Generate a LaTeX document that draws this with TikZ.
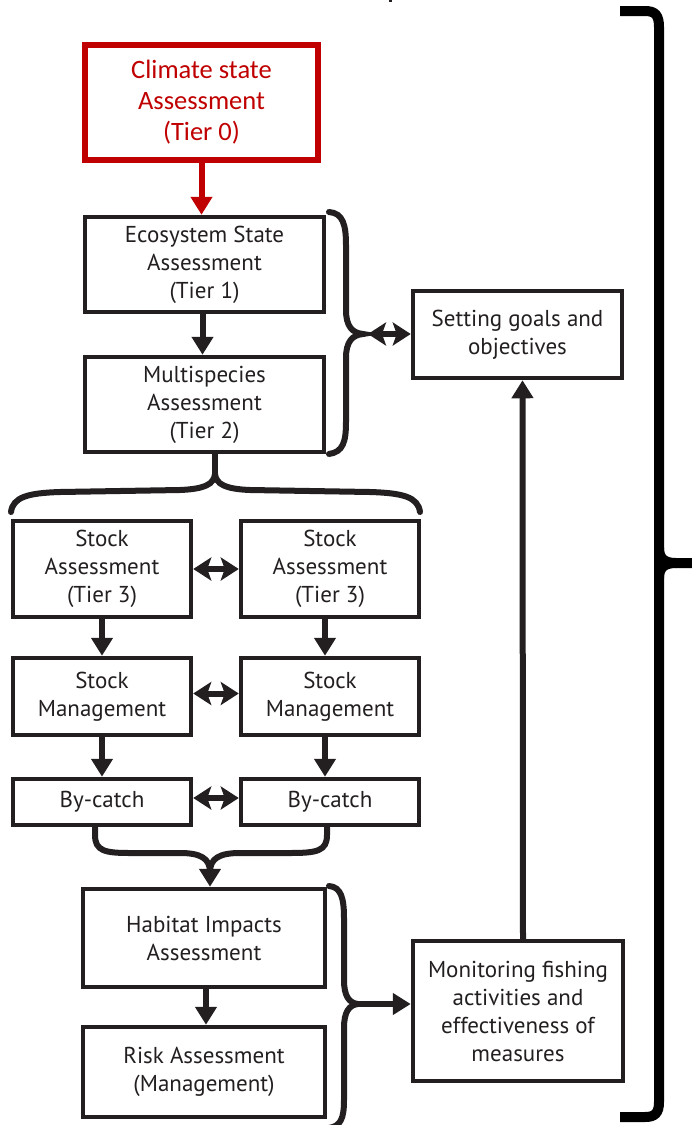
\documentclass[tikz,border=0pt]{standalone}
\usepackage{fontspec}
\setmainfont{PT Sans}
\newfontfamily\calib{Carlito}
\usetikzlibrary{arrows.meta}
\definecolor{darkred}{HTML}{C00000}
\definecolor{ink}{HTML}{231F20}
\begin{document}
\begin{tikzpicture}[x=1pt,y=-1pt,
  box/.style={draw=ink,line width=4.5pt,inner sep=0pt,align=center,text=ink,
    font=\fontsize{23}{28}\selectfont},
  redbox/.style={draw=darkred,line width=5.5pt,inner sep=0pt,align=center,text=darkred,
    font=\calib\fontsize{26.5}{31}\selectfont},
  arr/.style={draw=ink,line width=6pt,-{Triangle[length=18pt,width=21pt]}},
  redarr/.style={draw=darkred,line width=6pt,-{Triangle[length=18pt,width=21pt]}},
  dbl/.style={draw=ink,line width=6pt,{Stealth[length=18pt,width=23pt,inset=4pt]}-{Stealth[length=18pt,width=23pt,inset=4pt]}},
  brace/.style={draw=ink,line width=6pt,line cap=round},
  bigbrace/.style={draw=black,line width=10pt}]
\useasboundingbox (0,0) rectangle (692,1125);

% nodes
\node[redbox,minimum width=233pt,minimum height=115pt] (climate) at (201.5,102.5) {Climate state\\Assessment\\(Tier 0)};
\node[box,minimum width=239pt,minimum height=95pt] (eco) at (204.5,264.5) {Ecosystem State\\Assessment\\(Tier 1)};
\node[box,minimum width=239pt,minimum height=95pt] (multi) at (204.5,404.5) {Multispecies\\Assessment\\(Tier 2)};
\node[box,minimum width=209pt,minimum height=87pt] (goals) at (517.5,334.5) {Setting goals and\\objectives};
\node[box,minimum width=178pt,minimum height=96pt] (sa1) at (102,569) {Stock\\Assessment\\(Tier 3)};
\node[box,minimum width=178pt,minimum height=96pt] (sa2) at (330,569) {Stock\\Assessment\\(Tier 3)};
\node[box,minimum width=178pt,minimum height=77pt] (sm1) at (102,696.5) {Stock\\Management};
\node[box,minimum width=178pt,minimum height=77pt] (sm2) at (330,696.5) {Stock\\Management};
\node[box,minimum width=178pt,minimum height=46pt] (bc1) at (102,802) {By-catch};
\node[box,minimum width=178pt,minimum height=46pt] (bc2) at (330,802) {By-catch};
\node[box,minimum width=242pt,minimum height=98pt] (hab) at (204,938) {Habitat Impacts\\Assessment};
\node[box,minimum width=242pt,minimum height=90pt] (risk) at (204,1072) {Risk Assessment\\(Management)};
\node[box,minimum width=210pt,minimum height=140pt] (mon) at (518,1011) {Monitoring fishing\\activities and\\effectiveness of\\measures};

% vertical arrows
\draw[redarr] (climate.south) -- (climate.south |- eco.north);
\draw[arr] ([xshift=-2pt]eco.south) -- ([xshift=-2pt]multi.north);
\draw[arr] (sa1.south) -- (sm1.north);
\draw[arr] ([xshift=-5pt]sa2.south) -- ([xshift=-5pt]sm2.north);
\draw[arr] (sm1.south) -- (bc1.north);
\draw[arr] ([xshift=-5pt]sm2.south) -- ([xshift=-5pt]bc2.north);
\draw[arr] ([xshift=2pt]hab.south) -- ([xshift=2pt]risk.north);
\draw[arr] ([xshift=5pt]mon.north) -- ([xshift=5pt]goals.south);

% horizontal double arrows
\draw[dbl] (sa1.east) -- (sa2.west);
\draw[dbl] ([yshift=3pt]sm1.east) -- ([yshift=3pt]sm2.west);
\draw[dbl] ([yshift=4pt]bc1.east) -- ([yshift=4pt]bc2.west);

% brace right of Tier 1/2
\draw[brace] (329,212) .. controls (343,213) and (346,225) .. (346,245) -- (346,310)
  .. controls (346,326) and (352,333) .. (363,334)
  .. controls (352,335) and (346,342) .. (346,358) -- (346,422)
  .. controls (346,442) and (343,452) .. (329,454);
\coordinate (b1) at (368,334);
\draw[dbl] (b1) -- (b1 -| goals.west);

% brace below Multispecies
\draw[brace] (11,512) .. controls (13,497) and (28,493) .. (60,492) -- (180,490)
  .. controls (205,489) and (214,484) .. (215,474);
\draw[brace] (420,512) .. controls (418,497) and (403,493) .. (370,492) -- (250,490)
  .. controls (225,489) and (216,484) .. (215,474);
\draw[brace] (215,476) -- (multi.south -| 215,0);

% merge from By-catch
\coordinate (m) at (210,872);
\draw[brace] (bc1.south -| 95,0) -- (95,835) .. controls (95,851) and (105,853) .. (130,853)
  -- (180,853) .. controls (200,853) and (210,858) .. (m);
\draw[brace] (bc2.south -| 327,0) -- (327,835) .. controls (327,851) and (317,853) .. (290,853)
  -- (240,853) .. controls (220,853) and (210,858) .. (m);
\draw[arr] (m) -- (m |- hab.north);

% brace right of Habitat / Risk
\draw[brace] (329,886) .. controls (341,887) and (344,898) .. (344,918) -- (344,980)
  .. controls (344,996) and (349,1003) .. (358,1004)
  .. controls (349,1005) and (344,1012) .. (344,1028) -- (344,1100)
  .. controls (344,1118) and (341,1126) .. (329,1128);
\coordinate (b2) at (357,1004);
\draw[arr] (b2) -- (b2 -| mon.west);

% big right bracket
\draw[bigbrace] (620,11) -- (645,11) .. controls (655,11) and (659,15) .. (659,27) -- (659,1102)
  .. controls (659,1113) and (655,1117) .. (645,1117) -- (620,1117);
\draw[bigbrace] (659,548) .. controls (659,558) and (664,563) .. (676,563) -- (692,563);
\draw[bigbrace] (659,578) .. controls (659,568) and (664,563) .. (676,563);

% small mark at top
\draw[ink,line width=3pt] (390,0) -- (390,2);
\end{tikzpicture}
\end{document}
